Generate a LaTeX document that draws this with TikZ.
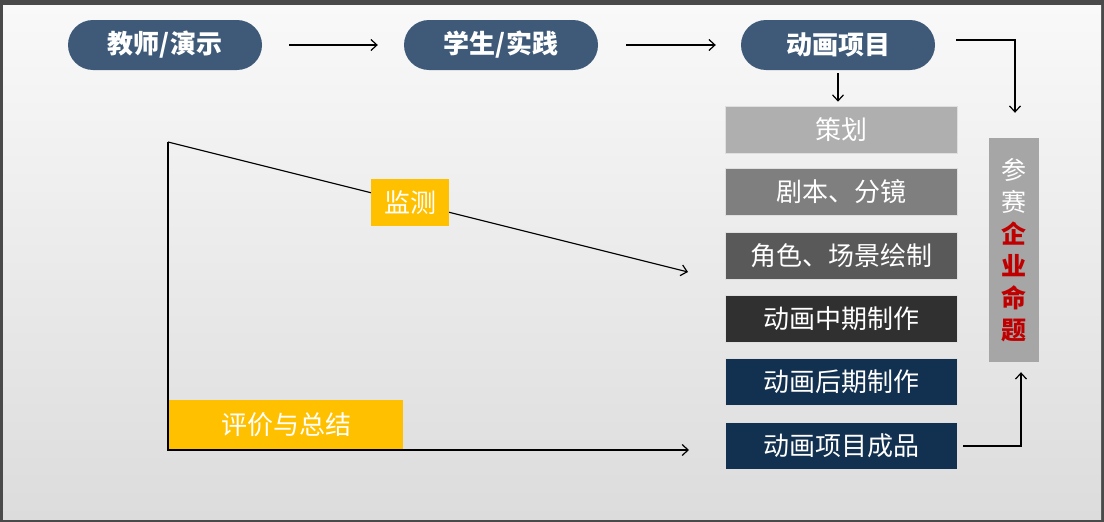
\documentclass[tikz,border=0pt]{standalone}
\usepackage{fontspec}
\setmainfont{Noto Sans CJK SC}
\usetikzlibrary{arrows.meta}
\definecolor{framec}{HTML}{4A4A4A}
\definecolor{bgtop}{HTML}{F9F9F9}
\definecolor{bgbot}{HTML}{DCDCDC}
\definecolor{pillc}{HTML}{3E5A78}
\definecolor{sa}{HTML}{AFAFAF}
\definecolor{sb}{HTML}{7F7F7F}
\definecolor{sc}{HTML}{595959}
\definecolor{sd}{HTML}{303030}
\definecolor{se}{HTML}{12304F}
\definecolor{sidec}{HTML}{A6A6A6}
\definecolor{redc}{HTML}{C00000}
\definecolor{yel}{HTML}{FFC000}
\begin{document}
\begin{tikzpicture}[x=1pt,y=-1pt,
  pill/.style={rectangle,rounded corners=25pt,fill=pillc,text=white,minimum width=194pt,minimum height=50pt,inner sep=0pt,font=\fontsize{26}{28}\selectfont\bfseries},
  stagebox/.style={rectangle,draw=white!75!gray,line width=0.6pt,text=white,minimum width=232pt,minimum height=47pt,inner sep=0pt,font=\fontsize{26}{28}\selectfont},
  sidebox/.style={rectangle,fill=sidec,text=white,minimum width=50pt,minimum height=224pt,inner sep=0pt,align=center,font=\fontsize{25}{32}\selectfont},
  yelbox/.style={rectangle,fill=yel,text=white,inner sep=0pt,font=\fontsize{26}{28}\selectfont},
  arr/.style={line width=1.2pt,-{Straight Barb[length=6pt,width=11pt,line width=1.2pt]}}]
\fill[framec] (0,0) rectangle (1104,522);
\shade[top color=bgtop,bottom color=bgbot] (3,5) rectangle (1101,519);
\useasboundingbox (0,0) rectangle (1104,522);

\node[pill] (teach) at (165,45) {教师/演示};
\node[pill] (stud) at (501,45) {学生/实践};
\node[pill] (proj) at (838,45) {动画项目};

\node[stagebox,fill=sa] (plan) at (841,129.5) {策划};
\node[stagebox,fill=sb] (script) at (841,191.5) {剧本、分镜};
\node[stagebox,fill=sc] (draw) at (841,255.5) {角色、场景绘制};
\node[stagebox,fill=sd] (mid) at (841,319) {动画中期制作};
\node[stagebox,fill=se] (post) at (841,382) {动画后期制作};
\node[stagebox,fill=se] (prod) at (841,446) {动画项目成品};

\node[sidebox] (comp) at (1014,250) {参\\赛\\\textcolor{redc}{\bfseries 企}\\\textcolor{redc}{\bfseries 业}\\\textcolor{redc}{\bfseries 命}\\\textcolor{redc}{\bfseries 题}};

\draw[arr] ([xshift=27pt]teach.east) -- ([xshift=-26pt]stud.west);
\draw[arr] ([xshift=28pt]stud.east) -- ([xshift=-25pt]proj.west);
\draw[arr] ([yshift=-3pt]proj.south) -- ([yshift=4pt]proj.south |- plan.north);
\draw[arr] ([xshift=21pt,yshift=5pt]proj.east) -| ([xshift=1pt,yshift=25pt]comp.north);
\draw[arr] ([xshift=6pt]prod.east) -| ([xshift=7pt,yshift=-10pt]comp.south);

\coordinate (o) at (168,142);
\coordinate (m) at (688,272);
\coordinate (e) at (689,450);
\draw[arr] (o) -- (m);
\draw[arr] (o) |- (e);

\node[yelbox,minimum width=78pt,minimum height=47pt] (mon) at (410,202.5) {监测};
\node[yelbox,minimum width=234pt,minimum height=49pt] (eval) at (286,424.5) {评价与总结};
\end{tikzpicture}
\end{document}
